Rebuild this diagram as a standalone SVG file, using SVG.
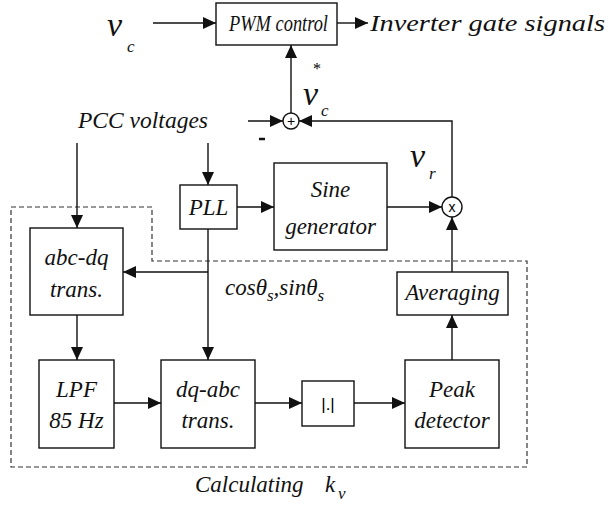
<svg xmlns="http://www.w3.org/2000/svg" width="608" height="515" viewBox="0 0 608 515" font-family="'Liberation Serif', 'Times New Roman', serif">
<style>
.t{font-family:'Liberation Serif','Times New Roman',serif;font-style:italic;font-size:23px;fill:#111}
.s{font-size:17px}
.v{font-size:34px}
.b{fill:#fff;stroke:#111;stroke-width:1.4}
.c{fill:none;stroke:#111;stroke-width:1.4}
.d{fill:none;stroke:#333;stroke-width:1.2;stroke-dasharray:5,3}
</style>
<defs>
<marker id="a" markerUnits="userSpaceOnUse" markerWidth="14" markerHeight="12" refX="13" refY="6" orient="auto">
<path d="M0,0 L13,6 L0,12 Z" fill="#111"/>
</marker>
</defs>
<g id="region"><path class="d" d="M11,207 H152 V261 H527 V467 H11 Z"/></g>
<g id="connectors">
<line class="c" x1="153" y1="23" x2="216" y2="23" marker-end="url(#a)"/>
<line class="c" x1="337" y1="23" x2="368" y2="23" marker-end="url(#a)"/>
<line class="c" x1="291" y1="113" x2="291" y2="45" marker-end="url(#a)"/>
<line class="c" x1="248" y1="121" x2="283" y2="121" marker-end="url(#a)"/>
<polyline class="c" points="452,197 452,121 299,121" marker-end="url(#a)"/>
<line class="c" x1="77" y1="143" x2="77" y2="228" marker-end="url(#a)"/>
<line class="c" x1="208" y1="143" x2="208" y2="185" marker-end="url(#a)"/>
<line class="c" x1="237" y1="207" x2="274" y2="207" marker-end="url(#a)"/>
<line class="c" x1="387" y1="207" x2="442" y2="207" marker-end="url(#a)"/>
<line class="c" x1="208" y1="229" x2="208" y2="360" marker-end="url(#a)"/>
<line class="c" x1="208" y1="272" x2="123" y2="272" marker-end="url(#a)"/>
<line class="c" x1="77" y1="315" x2="77" y2="360" marker-end="url(#a)"/>
<line class="c" x1="114" y1="403" x2="161" y2="403" marker-end="url(#a)"/>
<line class="c" x1="255" y1="403" x2="302" y2="403" marker-end="url(#a)"/>
<line class="c" x1="354" y1="403" x2="405" y2="403" marker-end="url(#a)"/>
<line class="c" x1="452" y1="360" x2="452" y2="315" marker-end="url(#a)"/>
<line class="c" x1="452" y1="272" x2="452" y2="217" marker-end="url(#a)"/>
<line x1="259" y1="139" x2="265" y2="139" stroke="#111" stroke-width="2.5"/>
</g>
<g id="vc"><text class="t v" x="107" y="36">v</text><text class="t s" x="127" y="52">c</text></g>
<g id="pwm"><rect class="b" x="216" y="3" width="121" height="42"/><text class="t" x="229" y="31" textLength="99" lengthAdjust="spacingAndGlyphs">PWM control</text></g>
<g id="out"><text class="t" x="370" y="31" textLength="235" lengthAdjust="spacingAndGlyphs">Inverter gate signals</text></g>
<g id="sum"><circle class="b" cx="291" cy="121" r="8"/><text x="291" y="126" text-anchor="middle" font-family="'Liberation Sans', sans-serif" font-size="14">+</text></g>
<g id="vcstar"><text class="t v" x="303" y="105">v</text><text x="313" y="74" font-family="'Liberation Serif', serif" font-size="16">*</text><text class="t s" x="321" y="116">c</text></g>
<g id="pcc"><text class="t" x="78" y="128" textLength="130" lengthAdjust="spacingAndGlyphs">PCC voltages</text></g>
<g id="vr"><text class="t v" x="410" y="167">v</text><text class="t s" x="429" y="179">r</text></g>
<g id="mult"><circle class="b" cx="452" cy="207" r="10"/><text x="452" y="212" text-anchor="middle" font-family="'Liberation Sans', sans-serif" font-size="14">x</text></g>
<g id="pll"><rect class="b" x="180" y="185" width="57" height="44"/><text class="t" x="208.5" y="215" text-anchor="middle">PLL</text></g>
<g id="sine"><rect class="b" x="274" y="163" width="113" height="87"/><text class="t" x="330.5" y="197" text-anchor="middle">Sine</text><text class="t" x="330.5" y="234" text-anchor="middle">generator</text></g>
<g id="abcdq"><rect class="b" x="30" y="228" width="93" height="87"/><text class="t" x="76.5" y="265" text-anchor="middle">abc-dq</text><text class="t" x="76.5" y="297" text-anchor="middle">trans.</text></g>
<g id="theta"><text class="t" x="225" y="295">cosθ<tspan class="s" dy="6">s</tspan><tspan dy="-6">,sinθ</tspan><tspan class="s" dy="6">s</tspan></text></g>
<g id="avg"><rect class="b" x="397" y="272" width="111" height="43"/><text class="t" x="452.5" y="300" text-anchor="middle">Averaging</text></g>
<g id="lpf"><rect class="b" x="39" y="360" width="75" height="88"/><text class="t" x="76.5" y="397" text-anchor="middle">LPF</text><text class="t" x="76.5" y="428" text-anchor="middle">85 Hz</text></g>
<g id="dqabc"><rect class="b" x="161" y="360" width="94" height="88"/><text class="t" x="208" y="397" text-anchor="middle">dq-abc</text><text class="t" x="208" y="428" text-anchor="middle">trans.</text></g>
<g id="abs"><rect class="b" x="302" y="381" width="52" height="45"/><text x="328" y="410" text-anchor="middle" font-family="'Liberation Sans', sans-serif" font-size="17">|.|</text></g>
<g id="peak"><rect class="b" x="405" y="360" width="94" height="88"/><text class="t" x="452" y="397" text-anchor="middle">Peak</text><text class="t" x="452" y="428" text-anchor="middle">detector</text></g>
<g id="calc"><text class="t" x="195" y="492">Calculating</text><text class="t" x="325" y="492">k</text><text class="t s" x="338" y="499">v</text></g>
</svg>
